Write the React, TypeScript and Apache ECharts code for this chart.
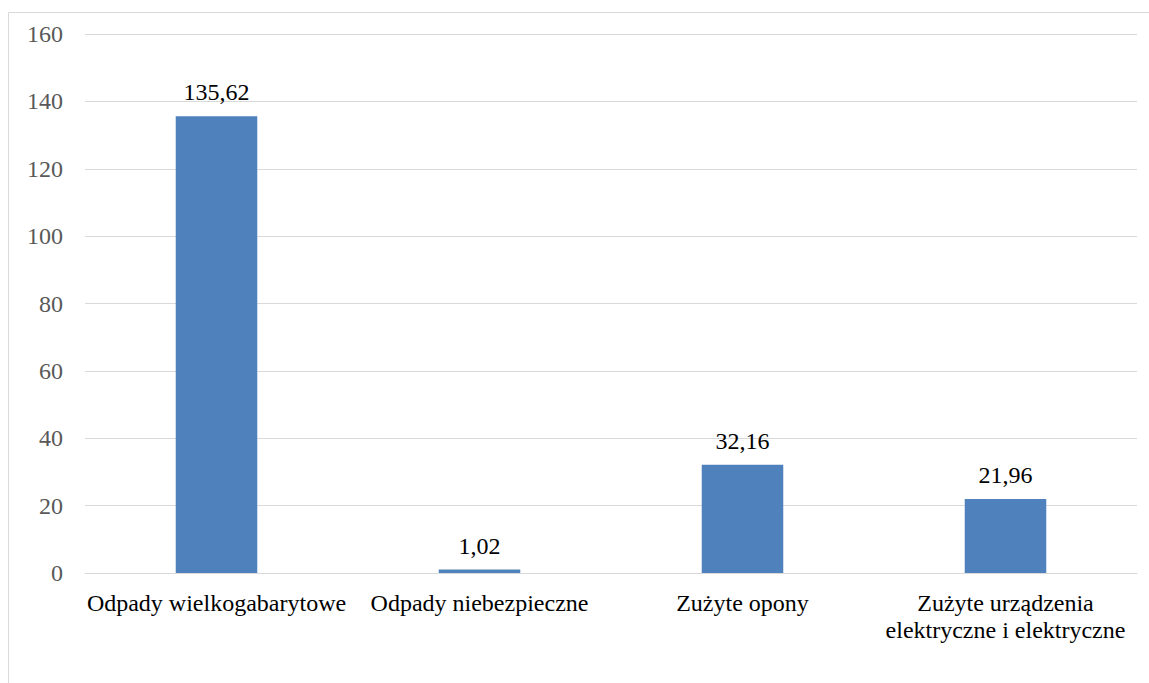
import React, { useEffect, useRef } from "react";
import * as echarts from "echarts";

const categories = [
  "Odpady wielkogabarytowe",
  "Odpady niebezpieczne",
  "Zużyte opony",
  "Zużyte urządzenia\nelektryczne i elektryczne",
];
const values = [135.62, 1.02, 32.16, 21.96];

const FONT = "Liberation Serif";

export default function App() {
  const ref = useRef<HTMLDivElement>(null);
  useEffect(() => {
    document.body.style.margin = "0";
    document.body.style.overflow = "hidden";
    const chart = echarts.init(ref.current!, null, { renderer: "svg" });
    chart.setOption({
      animation: false,
      backgroundColor: "#ffffff",
      textStyle: { fontFamily: FONT },
      grid: { left: 85, right: 12, top: 34, bottom: 110 },
      graphic: [
        {
          type: "rect",
          shape: { x: 8.5, y: 12.5, width: 1200, height: 700 },
          style: { fill: "none", stroke: "#d9d9d9", lineWidth: 1 },
          silent: true,
        },
      ],
      xAxis: {
        type: "category",
        data: categories,
        axisLine: { lineStyle: { color: "#d9d9d9", width: 1 } },
        axisTick: { show: false },
        axisLabel: {
          color: "#000000",
          fontFamily: FONT,
          fontSize: 24,
          lineHeight: 27.5,
          margin: 16,
          interval: 0,
        },
      },
      yAxis: {
        type: "value",
        min: 0,
        max: 160,
        interval: 20,
        axisLine: { show: false },
        axisTick: { show: false },
        splitLine: { lineStyle: { color: "#d9d9d9", width: 1 } },
        axisLabel: {
          color: "#595959",
          fontFamily: FONT,
          fontSize: 24,
          margin: 22,
        },
      },
      series: [
        {
          type: "bar",
          data: values,
          barWidth: "31%",
          itemStyle: { color: "#4F81BD" },
          label: {
            show: true,
            position: "top",
            distance: 12,
            color: "#000000",
            fontFamily: FONT,
            fontSize: 24,
            formatter: (p: any) => p.value.toFixed(2).replace(".", ","),
          },
        },
      ],
    });
    return () => chart.dispose();
  }, []);
  return <div ref={ref} style={{ width: 1149, height: 683 }} />;
}
